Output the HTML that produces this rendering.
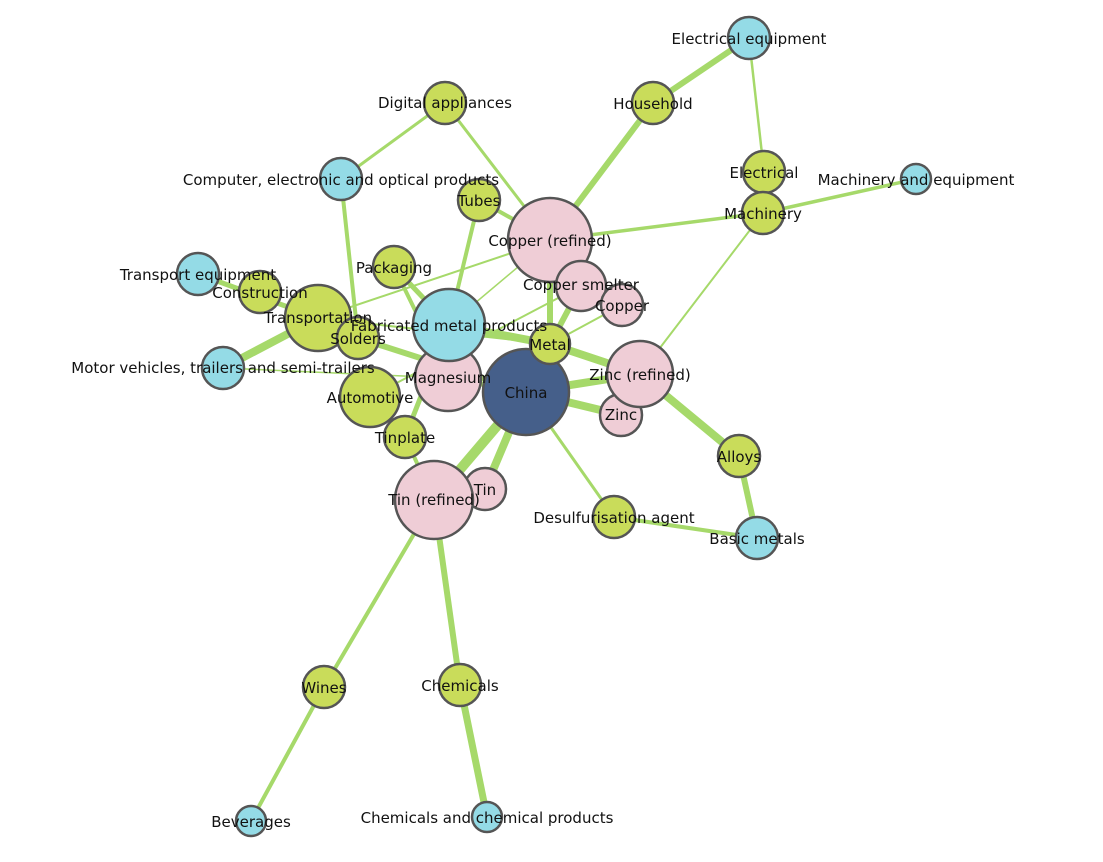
<!DOCTYPE html>
<html><head><meta charset="utf-8"><style>
html,body{margin:0;padding:0;background:#fff}
svg{display:block}
text{font-family:"DejaVu Sans","Liberation Sans",sans-serif;font-size:15px;fill:#111;text-anchor:middle;dominant-baseline:central}
</style></head><body>
<svg width="1103" height="862" viewBox="0 0 1103 862">
<g stroke="#a6d96a" stroke-linecap="round" fill="none">
<line x1="749" y1="38" x2="653" y2="103" stroke-width="6"/>
<line x1="749" y1="38" x2="764" y2="172" stroke-width="2.5"/>
<line x1="653" y1="103" x2="550" y2="240" stroke-width="6"/>
<line x1="445" y1="103" x2="341" y2="179" stroke-width="3"/>
<line x1="445" y1="103" x2="550" y2="240" stroke-width="3"/>
<line x1="550" y1="240" x2="763" y2="213" stroke-width="3.5"/>
<line x1="763" y1="213" x2="916" y2="179" stroke-width="3.5"/>
<line x1="763" y1="213" x2="640" y2="374" stroke-width="2"/>
<line x1="479" y1="200" x2="550" y2="240" stroke-width="4"/>
<line x1="479" y1="200" x2="449" y2="325" stroke-width="4"/>
<line x1="341" y1="179" x2="358" y2="338" stroke-width="4"/>
<line x1="198" y1="274" x2="318" y2="318" stroke-width="5"/>
<line x1="318" y1="318" x2="550" y2="240" stroke-width="2"/>
<line x1="318" y1="318" x2="223" y2="368" stroke-width="8"/>
<line x1="318" y1="318" x2="550" y2="344" stroke-width="2"/>
<line x1="223" y1="368" x2="448" y2="378" stroke-width="1.5"/>
<line x1="394" y1="267" x2="449" y2="325" stroke-width="5"/>
<line x1="394" y1="267" x2="448" y2="378" stroke-width="4"/>
<line x1="358" y1="338" x2="526" y2="392" stroke-width="6"/>
<line x1="370" y1="397" x2="581" y2="286" stroke-width="2"/>
<line x1="449" y1="325" x2="550" y2="344" stroke-width="8"/>
<line x1="449" y1="325" x2="550" y2="240" stroke-width="1.5"/>
<line x1="550" y1="344" x2="640" y2="374" stroke-width="8"/>
<line x1="550" y1="344" x2="581" y2="286" stroke-width="6"/>
<line x1="550" y1="344" x2="622" y2="305" stroke-width="2"/>
<line x1="550" y1="240" x2="550" y2="344" stroke-width="6"/>
<line x1="526" y1="392" x2="640" y2="374" stroke-width="8"/>
<line x1="526" y1="392" x2="621" y2="415" stroke-width="8"/>
<line x1="526" y1="392" x2="434" y2="500" stroke-width="10"/>
<line x1="526" y1="392" x2="485" y2="489" stroke-width="8"/>
<line x1="526" y1="392" x2="614" y2="517" stroke-width="3"/>
<line x1="526" y1="392" x2="448" y2="378" stroke-width="5"/>
<line x1="405" y1="437" x2="449" y2="325" stroke-width="5"/>
<line x1="405" y1="437" x2="434" y2="500" stroke-width="4"/>
<line x1="640" y1="374" x2="739" y2="456" stroke-width="8"/>
<line x1="739" y1="456" x2="757" y2="538" stroke-width="6"/>
<line x1="614" y1="517" x2="757" y2="538" stroke-width="4"/>
<line x1="434" y1="500" x2="324" y2="687" stroke-width="4"/>
<line x1="434" y1="500" x2="460" y2="685" stroke-width="6"/>
<line x1="324" y1="687" x2="251" y2="821" stroke-width="4"/>
<line x1="460" y1="685" x2="487" y2="817" stroke-width="7"/>
</g>
<g stroke="#555" stroke-width="2.5">
<circle cx="749" cy="38" r="21" fill="#94dbe6"/>
<circle cx="653" cy="103" r="21" fill="#c9dc5a"/>
<circle cx="445" cy="103" r="21" fill="#c9dc5a"/>
<circle cx="341" cy="179" r="21" fill="#94dbe6"/>
<circle cx="764" cy="172" r="21" fill="#c9dc5a"/>
<circle cx="763" cy="213" r="21" fill="#c9dc5a"/>
<circle cx="916" cy="179" r="15" fill="#94dbe6"/>
<circle cx="479" cy="200" r="21" fill="#c9dc5a"/>
<circle cx="198" cy="274" r="21" fill="#94dbe6"/>
<circle cx="260" cy="292" r="21" fill="#c9dc5a"/>
<circle cx="394" cy="267" r="21" fill="#c9dc5a"/>
<circle cx="318" cy="318" r="33" fill="#c9dc5a"/>
<circle cx="223" cy="368" r="21" fill="#94dbe6"/>
<circle cx="550" cy="240" r="42" fill="#efcdd6"/>
<circle cx="581" cy="286" r="25" fill="#efcdd6"/>
<circle cx="622" cy="305" r="21" fill="#efcdd6"/>
<circle cx="358" cy="338" r="21" fill="#c9dc5a"/>
<circle cx="448" cy="378" r="33" fill="#efcdd6"/>
<circle cx="449" cy="325" r="36" fill="#94dbe6"/>
<circle cx="370" cy="397" r="30" fill="#c9dc5a"/>
<circle cx="405" cy="437" r="21" fill="#c9dc5a"/>
<circle cx="526" cy="392" r="43" fill="#455f8a"/>
<circle cx="550" cy="344" r="20" fill="#c9dc5a"/>
<circle cx="621" cy="415" r="21" fill="#efcdd6"/>
<circle cx="640" cy="374" r="33" fill="#efcdd6"/>
<circle cx="485" cy="489" r="21" fill="#efcdd6"/>
<circle cx="434" cy="500" r="39" fill="#efcdd6"/>
<circle cx="739" cy="456" r="21" fill="#c9dc5a"/>
<circle cx="757" cy="538" r="21" fill="#94dbe6"/>
<circle cx="614" cy="517" r="21" fill="#c9dc5a"/>
<circle cx="324" cy="687" r="21" fill="#c9dc5a"/>
<circle cx="460" cy="685" r="21" fill="#c9dc5a"/>
<circle cx="251" cy="821" r="15" fill="#94dbe6"/>
<circle cx="487" cy="817" r="15" fill="#94dbe6"/>
</g>
<g>
<text x="749" y="39">Electrical equipment</text>
<text x="653" y="104">Household</text>
<text x="445" y="103">Digital appliances</text>
<text x="341" y="180">Computer, electronic and optical products</text>
<text x="764" y="173">Electrical</text>
<text x="763" y="214">Machinery</text>
<text x="916" y="180">Machinery and equipment</text>
<text x="479" y="201">Tubes</text>
<text x="198" y="275">Transport equipment</text>
<text x="260" y="293">Construction</text>
<text x="394" y="268">Packaging</text>
<text x="318" y="318">Transportation</text>
<text x="223" y="368">Motor vehicles, trailers and semi-trailers</text>
<text x="550" y="241">Copper (refined)</text>
<text x="581" y="285">Copper smelter</text>
<text x="622" y="306">Copper</text>
<text x="358" y="339">Solders</text>
<text x="448" y="378">Magnesium</text>
<text x="449" y="326">Fabricated metal products</text>
<text x="370" y="398">Automotive</text>
<text x="405" y="438">Tinplate</text>
<text x="526" y="393">China</text>
<text x="550" y="345">Metal</text>
<text x="621" y="415">Zinc</text>
<text x="640" y="375">Zinc (refined)</text>
<text x="485" y="490">Tin</text>
<text x="434" y="500">Tin (refined)</text>
<text x="739" y="457">Alloys</text>
<text x="757" y="539">Basic metals</text>
<text x="614" y="518">Desulfurisation agent</text>
<text x="324" y="688">Wines</text>
<text x="460" y="686">Chemicals</text>
<text x="251" y="822">Beverages</text>
<text x="487" y="818">Chemicals and chemical products</text>
</g>
</svg>
</body></html>
